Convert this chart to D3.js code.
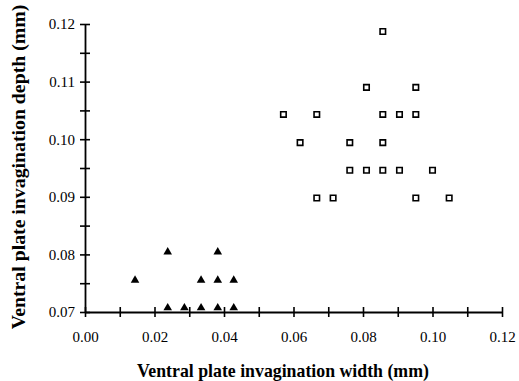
<!DOCTYPE html>
<html>
<head>
<meta charset="utf-8">
<script src="https://cdn.jsdelivr.net/npm/d3@7"></script>
<style>
  body { margin: 0; background: #fff; }
  svg text { font-family: "Liberation Serif", "Times New Roman", serif; fill: #000; }
</style>
</head>
<body>
<div class="canvas"></div>
<script>
// data
const triX = [0.0238, 0.0382, 0.0144, 0.0334, 0.0382, 0.0428, 0.0238, 0.0286, 0.0334, 0.0382, 0.0428];
const triY = [0.0805, 0.0805, 0.0756, 0.0756, 0.0756, 0.0756, 0.0708, 0.0708, 0.0708, 0.0708, 0.0708];
const sqX = [0.0857, 0.0810, 0.0952, 0.0571, 0.0667, 0.0857, 0.0905, 0.0952, 0.0619, 0.0762, 0.0857,
             0.0762, 0.0810, 0.0857, 0.0905, 0.1000, 0.0667, 0.0714, 0.0952, 0.1048];
const sqY = [0.1187, 0.1090, 0.1090, 0.1043, 0.1043, 0.1043, 0.1043, 0.1043, 0.0994, 0.0994, 0.0994,
             0.0946, 0.0946, 0.0946, 0.0946, 0.0946, 0.0898, 0.0898, 0.0898, 0.0898];
const xTicks = [0, 0.01, 0.02, 0.03, 0.04, 0.05, 0.06, 0.07, 0.08, 0.09, 0.10, 0.11, 0.12];
const yTicks = [0.07, 0.075, 0.08, 0.085, 0.09, 0.095, 0.10, 0.105, 0.11, 0.115, 0.12];

// dimensions
const dims = { width: 519, height: 381 };
const plot = { left: 85, right: 502, top: 24, bottom: 312 };

const svg = d3.select(".canvas").append("svg")
  .attr("width", dims.width)
  .attr("height", dims.height);

// scales
const x = d3.scaleLinear().domain([0, 0.12]).range([plot.left, plot.right]);
const y = d3.scaleLinear().domain([0.07, 0.12]).range([plot.bottom, plot.top]);

// x axis - labels on every other tick
const xAxis = d3.axisBottom(x)
  .tickValues(xTicks)
  .tickSize(5)
  .tickSizeOuter(0)
  .tickPadding(14)
  .tickFormat((d, i) => (i % 2 === 0 ? d3.format(".2f")(d) : ""));

const gx = svg.append("g")
  .attr("transform", `translate(0, ${plot.bottom})`)
  .call(xAxis);

// y axis - labels on 0.01 steps
const yAxis = d3.axisLeft(y)
  .tickValues(yTicks)
  .tickSize(5)
  .tickSizeOuter(0)
  .tickPadding(5)
  .tickFormat((d, i) => (i % 2 === 0 ? d3.format(".2f")(d) : ""));

const gy = svg.append("g")
  .attr("transform", `translate(${plot.left}, 0)`)
  .call(yAxis);

// ticks cross the axis line
gx.selectAll(".tick line").attr("y1", -5).attr("y2", 5);
gy.selectAll(".tick line").attr("x1", 5).attr("x2", -5);

[gx, gy].forEach((g) => {
  g.select(".domain").attr("stroke", "#000").attr("stroke-width", 1.8);
  g.selectAll(".tick line").attr("stroke", "#000").attr("stroke-width", 1.6);
  g.selectAll(".tick text")
    .attr("font-size", 15)
    .attr("fill", "#000");
});

// axis titles
svg.append("text")
  .attr("x", 283)
  .attr("y", 377)
  .attr("text-anchor", "middle")
  .attr("font-size", 17.8)
  .attr("font-weight", "bold")
  .text("Ventral plate invagination width (mm)");

svg.append("text")
  .attr("transform", "translate(25, 167) rotate(-90)")
  .attr("text-anchor", "middle")
  .attr("font-size", 19.8)
  .attr("font-weight", "bold")
  .text("Ventral plate invagination depth (mm)");

// filled triangles
const tri = d3.symbol().type(d3.symbolTriangle).size(32);
svg.append("g").selectAll("path")
  .data(d3.zip(triX, triY))
  .enter()
  .append("path")
  .attr("d", tri)
  .attr("transform", (d) => `translate(${x(d[0])}, ${y(d[1]) + 0.5})`)
  .attr("fill", "#000");

// open squares
const sq = d3.symbol().type(d3.symbolSquare).size(30);
svg.append("g").selectAll("path")
  .data(d3.zip(sqX, sqY))
  .enter()
  .append("path")
  .attr("d", sq)
  .attr("transform", (d) => `translate(${x(d[0])}, ${y(d[1])})`)
  .attr("fill", "#fff")
  .attr("stroke", "#000")
  .attr("stroke-width", 1.6);
</script>
</body>
</html>
